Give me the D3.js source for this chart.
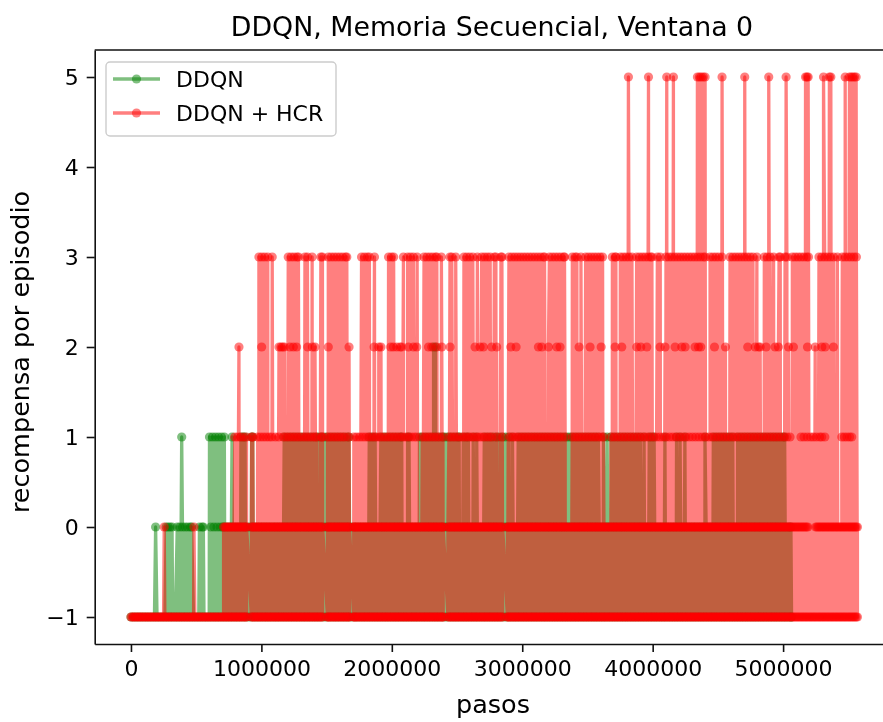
<!DOCTYPE html>
<html><head><meta charset="utf-8">
<script src="https://cdn.jsdelivr.net/npm/d3@7"></script>
<style>
html,body{margin:0;padding:0;background:#fff;overflow:hidden}
svg{display:block;filter:blur(0.55px)}
text{font-family:"DejaVu Sans",sans-serif;fill:#000}
</style></head><body><div id="chart"></div>
<script>
// Episodes: step (in thousands) at which each reward was obtained.
const hcrMinus1 = [0,10,20,30,40,50,60,70,80,90,100,110,120,130,140,150,160,170,180,190,200,210,220,230,240,250,260,270,280,290,300,310,320,330,340,350,360,370,380,390,400,410,420,430,440,450,460,470,480,490,500,510,520,530,540,550,560,570,580,590,600,610,620,630,640,650,660,670,680,690,700,710,720,730,740,750,760,770,780,790,800,810,820,830,840,850,860,870,880,887,923,930,940,950,960,970,980,990,1000,1010,1020,1030,1040,1050,1060,1070,1080,1090,1100,1110,1120,1130,1140,1150,1160,1170,1180,1190,1200,1210,1220,1230,1240,1250,1260,1270,1280,1290,1300,1310,1320,1330,1340,1350,1360,1370,1380,1390,1400,1410,1420,1430,1440,1450,1460,1470,1506,1510,1520,1530,1540,1550,1560,1570,1580,1590,1600,1610,1620,1630,1640,1650,1660,1670,1676,1708,1710,1720,1730,1740,1750,1760,1770,1780,1790,1800,1810,1820,1830,1840,1850,1860,1870,1880,1890,1900,1910,1920,1930,1940,1950,1960,1970,1980,1990,2000,2010,2020,2030,2040,2050,2060,2070,2080,2090,2100,2110,2120,2130,2140,2150,2160,2170,2180,2190,2200,2210,2220,2230,2240,2250,2260,2270,2280,2290,2300,2310,2320,2330,2340,2350,2360,2370,2380,2390,2394,2430,2440,2450,2460,2470,2480,2490,2500,2510,2520,2530,2540,2550,2560,2570,2580,2590,2600,2610,2620,2630,2640,2650,2660,2670,2680,2690,2700,2710,2720,2730,2740,2750,2760,2770,2780,2790,2800,2810,2820,2830,2840,2850,2886,2890,2900,2910,2920,2930,2940,2950,2960,2970,2980,2990,3000,3010,3020,3030,3040,3050,3060,3070,3080,3090,3100,3110,3120,3130,3140,3150,3160,3170,3180,3190,3200,3210,3220,3230,3240,3250,3260,3270,3280,3290,3300,3310,3320,3330,3340,3350,3360,3370,3380,3390,3400,3410,3420,3430,3440,3450,3460,3470,3480,3490,3500,3510,3520,3530,3540,3550,3560,3570,3580,3590,3600,3610,3620,3630,3640,3650,3660,3670,3680,3690,3700,3710,3720,3730,3740,3750,3760,3770,3780,3790,3800,3810,3820,3830,3840,3850,3860,3870,3880,3890,3900,3910,3920,3930,3940,3950,3960,3970,3980,3990,4000,4010,4020,4030,4040,4050,4060,4070,4080,4090,4100,4110,4120,4130,4140,4150,4160,4170,4180,4190,4200,4210,4220,4230,4240,4250,4260,4270,4280,4290,4300,4310,4320,4330,4340,4350,4360,4370,4380,4390,4400,4410,4420,4430,4440,4450,4460,4470,4480,4490,4500,4510,4520,4530,4540,4550,4560,4570,4580,4590,4600,4610,4620,4630,4640,4650,4660,4670,4680,4690,4700,4710,4720,4730,4740,4750,4760,4770,4780,4790,4800,4810,4820,4830,4840,4850,4860,4870,4880,4890,4900,4910,4920,4930,4940,4950,4960,4970,4980,4990,5000,5010,5020,5030,5040,5050,5060,5070,5080,5090,5100,5110,5120,5130,5140,5150,5160,5170,5180,5190,5200,5210,5220,5230,5240,5250,5260,5270,5280,5290,5300,5310,5320,5330,5340,5350,5360,5370,5380,5390,5400,5410,5420,5430,5440,5450,5460,5470,5480,5490,5500,5510,5520,5530,5540,5550,5560,5570];
const hcrZero = [255,483,710,720,730,740,750,760,770,780,790,800,810,820,830,840,850,860,870,880,887,923,930,940,950,960,970,980,990,1000,1010,1020,1030,1040,1050,1060,1070,1080,1090,1100,1110,1120,1130,1140,1150,1160,1170,1180,1190,1200,1210,1220,1230,1240,1250,1260,1270,1280,1290,1300,1310,1320,1330,1340,1350,1360,1370,1380,1390,1400,1410,1420,1430,1440,1450,1460,1470,1506,1510,1520,1530,1540,1550,1560,1570,1580,1590,1600,1610,1620,1630,1640,1650,1660,1670,1676,1708,1710,1720,1730,1740,1750,1760,1770,1780,1790,1800,1810,1820,1830,1840,1850,1860,1870,1880,1890,1900,1910,1920,1930,1940,1950,1960,1970,1980,1990,2000,2010,2020,2030,2040,2050,2060,2070,2080,2090,2100,2110,2120,2130,2140,2150,2160,2170,2180,2190,2200,2210,2220,2230,2240,2250,2260,2270,2280,2290,2300,2310,2320,2330,2340,2350,2360,2370,2380,2390,2394,2430,2440,2450,2460,2470,2480,2490,2500,2510,2520,2530,2540,2550,2560,2570,2580,2590,2600,2610,2620,2630,2640,2650,2660,2670,2680,2690,2700,2710,2720,2730,2740,2750,2760,2770,2780,2790,2800,2810,2820,2830,2840,2850,2886,2890,2900,2910,2920,2930,2940,2950,2960,2970,2980,2990,3000,3010,3020,3030,3040,3050,3060,3070,3080,3090,3100,3110,3120,3130,3140,3150,3160,3170,3180,3190,3200,3210,3220,3230,3240,3250,3260,3270,3280,3290,3300,3310,3320,3330,3340,3350,3360,3370,3380,3390,3400,3410,3420,3430,3440,3450,3460,3470,3480,3490,3500,3510,3520,3530,3540,3550,3560,3570,3580,3590,3600,3610,3620,3630,3640,3650,3660,3670,3680,3690,3700,3710,3720,3730,3740,3750,3760,3770,3780,3790,3800,3810,3820,3830,3840,3850,3860,3870,3880,3890,3900,3910,3920,3930,3940,3950,3960,3970,3980,3990,4000,4010,4020,4030,4040,4050,4060,4070,4080,4090,4100,4110,4120,4130,4140,4150,4160,4170,4180,4190,4200,4210,4220,4230,4240,4250,4260,4270,4280,4290,4300,4310,4320,4330,4340,4350,4360,4370,4380,4390,4400,4410,4420,4430,4440,4450,4460,4470,4480,4490,4500,4510,4520,4530,4540,4550,4560,4570,4580,4590,4600,4610,4620,4630,4640,4650,4660,4670,4680,4690,4700,4710,4720,4730,4740,4750,4760,4770,4780,4790,4800,4810,4820,4830,4840,4850,4860,4870,4880,4890,4900,4910,4920,4930,4940,4950,4960,4970,4980,4990,5000,5010,5020,5030,5040,5050,5060,5070,5080,5090,5100,5110,5120,5130,5140,5150,5160,5170,5180,5190,5250,5260,5270,5280,5290,5300,5310,5320,5330,5340,5350,5360,5370,5380,5390,5400,5410,5420,5430,5440,5450,5460,5470,5480,5490,5500,5510,5520,5530,5540,5550,5560,5570];
const hcrOne = [796,818,840,862,886,925,934,971,993,1015,1037,1059,1079,1107,1132,1167,1189,1211,1233,1255,1277,1299,1321,1343,1365,1387,1409,1424,1461,1468,1507,1529,1551,1573,1595,1617,1639,1668,1709,1731,1753,1775,1797,1819,1841,1863,1885,1907,1929,1951,1973,1995,2017,2039,2061,2083,2105,2127,2149,2171,2191,2233,2255,2277,2299,2321,2343,2365,2392,2438,2460,2482,2504,2526,2548,2570,2592,2614,2636,2658,2680,2702,2724,2746,2768,2805,2847,2905,2927,2949,2971,2993,3015,3037,3059,3081,3103,3125,3147,3169,3191,3213,3235,3257,3279,3301,3329,3383,3405,3427,3449,3471,3493,3515,3537,3559,3581,3603,3623,3680,3705,3730,3755,3780,3805,3830,3855,3880,3905,3930,3955,3980,4005,4030,4055,4080,4105,4130,4155,4180,4205,4230,4255,4280,4305,4330,4355,4380,4405,4430,4455,4480,4505,4530,4555,4580,4605,4630,4655,4680,4705,4730,4755,4780,4805,4830,4855,4880,4905,4930,4955,4980,5005,5030,5053,5137,5160,5185,5210,5232,5255,5280,5296,5320,5450,5470,5490,5510,5526];
const hcrTwo = [828,1002,1135,1150,1163,1176,1219,1245,1270,1355,1391,1411,1513,1672,1864,1900,1917,1991,2012,2038,2063,2076,2127,2166,2191,2281,2306,2344,2383,2447,2638,2677,2702,2766,2804,2912,2953,3124,3150,3201,3265,3290,3436,3520,3605,3712,3763,3878,3909,3955,4057,4095,4172,4223,4249,4325,4351,4369,4474,4558,4729,4786,4811,4824,4870,4939,4964,5041,5079,5187,5246,5297,5322,5386];
const hcrThree = [981,1003,1025,1049,1083,1206,1228,1250,1272,1284,1334,1353,1389,1456,1468,1513,1535,1557,1579,1601,1623,1645,1655,1768,1790,1812,1828,1867,1975,1997,2014,2089,2121,2143,2165,2194,2247,2269,2291,2313,2335,2345,2380,2446,2460,2490,2553,2575,2597,2621,2656,2689,2711,2733,2754,2786,2798,2837,2844,2898,2920,2942,2964,2986,3008,3030,3052,3074,3096,3118,3140,3162,3171,3208,3230,3252,3274,3296,3318,3324,3384,3406,3419,3450,3486,3508,3530,3552,3574,3596,3616,3691,3713,3718,3752,3774,3796,3818,3841,3877,3899,3921,3943,3965,3985,3994,4036,4058,4102,4124,4146,4168,4190,4212,4234,4256,4278,4300,4322,4344,4366,4388,4403,4440,4462,4484,4506,4531,4593,4615,4637,4659,4681,4703,4725,4747,4769,4799,4856,4878,4900,4927,4969,4978,5015,5029,5071,5093,5115,5137,5159,5181,5195,5275,5297,5319,5341,5363,5387,5416,5454,5476,5498,5520,5542,5562];
const hcrFive = [3814,3968,4108,4159,4343,4358,4372,4388,4402,4532,4706,4890,5023,5172,5183,5192,5310,5355,5366,5476,5509,5522,5535,5548,5560];

const ddqnMinus1 = [0,20,40,60,80,100,120,140,160,180,200,220,240,260,280,300,320,340,360,380,400,420,440,460,480,500,520,540,560,580,600,620,640,660,680,700,720,740,760,780,800,820,840,860,880,900,920,940,960,980,1000,1020,1040,1060,1080,1100,1120,1140,1160,1180,1200,1220,1240,1260,1280,1300,1320,1340,1360,1380,1400,1420,1440,1460,1480,1500,1520,1540,1560,1580,1600,1620,1640,1660,1680,1700,1720,1740,1760,1780,1800,1820,1840,1860,1880,1900,1920,1940,1960,1980,2000,2020,2040,2060,2080,2100,2120,2140,2160,2180,2200,2220,2240,2260,2280,2300,2320,2340,2360,2380,2400,2420,2440,2460,2480,2500,2520,2540,2560,2580,2600,2620,2640,2660,2680,2700,2720,2740,2760,2780,2800,2820,2840,2860,2880,2900,2920,2940,2960,2980,3000,3020,3040,3060,3080,3100,3120,3140,3160,3180,3200,3220,3240,3260,3280,3300,3320,3340,3360,3380,3400,3420,3440,3460,3480,3500,3520,3540,3560,3580,3600,3620,3640,3660,3680,3700,3720,3740,3760,3780,3800,3820,3840,3860,3880,3900,3920,3940,3960,3980,4000,4020,4040,4060,4080,4100,4120,4140,4160,4180,4200,4220,4240,4260,4280,4300,4320,4340,4360,4380,4400,4420,4440,4460,4480,4500,4520,4540,4560,4580,4600,4620,4640,4660,4680,4700,4720,4740,4760,4780,4800,4820,4840,4860,4880,4900,4920,4940,4960,4980,5000,5020,5040,5060,5065];
const ddqnZero = [189,270,285,300,315,355,375,395,415,435,455,465,525,545,555,612,636,660,684,703,710,730,750,770,790,810,830,850,870,890,910,930,950,970,990,1010,1030,1050,1070,1090,1110,1130,1150,1170,1190,1210,1230,1250,1270,1290,1310,1330,1350,1370,1390,1410,1430,1450,1470,1490,1510,1530,1550,1570,1590,1610,1630,1650,1670,1690,1710,1730,1750,1770,1790,1810,1830,1850,1870,1890,1910,1930,1950,1970,1990,2010,2030,2050,2070,2090,2110,2130,2150,2170,2190,2210,2230,2250,2270,2290,2310,2330,2350,2370,2390,2410,2430,2450,2470,2490,2510,2530,2550,2570,2590,2610,2630,2650,2670,2690,2710,2730,2750,2770,2790,2810,2830,2850,2870,2890,2910,2930,2950,2970,2990,3010,3030,3050,3070,3090,3110,3130,3150,3170,3190,3210,3230,3250,3270,3290,3310,3330,3350,3370,3390,3410,3430,3450,3470,3490,3510,3530,3550,3570,3590,3610,3630,3650,3670,3690,3710,3730,3750,3770,3790,3810,3830,3850,3870,3890,3910,3930,3950,3970,3990,4010,4030,4050,4070,4090,4110,4130,4150,4170,4190,4210,4230,4250,4270,4290,4310,4330,4350,4370,4390,4410,4430,4450,4470,4490,4510,4530,4550,4570,4590,4610,4630,4650,4670,4690,4710,4730,4750,4770,4790,4810,4830,4850,4870,4890,4910,4930,4950,4970,4990,5010,5030,5050,5060];
const ddqnOne = [389,602,625,648,671,694,716,775,843,862,875,925,934,1175,1200,1225,1250,1275,1300,1325,1350,1375,1400,1424,1445,1461,1483,1507,1532,1557,1582,1607,1632,1657,1672,1827,1850,1872,1916,1941,1966,1991,2016,2041,2066,2076,2121,2132,2212,2233,2258,2283,2308,2333,2358,2383,2396,2417,2438,2460,2484,2506,2516,2548,2571,2587,2624,2651,2709,2734,2759,2784,2805,2826,2847,2873,2898,2925,2969,2994,3019,3044,3069,3094,3119,3144,3169,3194,3219,3244,3269,3294,3319,3341,3362,3383,3408,3433,3458,3483,3508,3533,3558,3583,3623,3651,3680,3705,3730,3755,3780,3805,3830,3855,3880,3905,3934,3974,3994,4011,4094,4183,4210,4247,4401,4465,4490,4515,4540,4565,4590,4614,4651,4676,4701,4726,4751,4776,4801,4826,4851,4876,4901,4926,4951,4976,5001,5012];
const ddqnTwo = [2320,2335];

const yTicks = [-1,0,1,2,3,4,5];
const xTicks = [0,1000000,2000000,3000000,4000000,5000000];
const seriesNames = ["DDQN","DDQN + HCR"];
const seriesColors = ["#008000","#ff0000"];
const titleText = "DDQN, Memoria Secuencial, Ventana 0";
const xLabel = "pasos", yLabel = "recompensa por episodio";

const W = 883, H = 722;
const L = 94.7, R = 893.7, T = 50, B = 644;
const lw = 3.3, mr = 4.6;

const episodes = levels => levels
  .flatMap(([reward, steps]) => steps.map(s => ({step: s * 1000, reward})))
  .sort((a, b) => d3.ascending(a.step, b.step));

const ddqn = episodes([[-1,ddqnMinus1],[0,ddqnZero],[1,ddqnOne],[2,ddqnTwo]]);
const hcr = episodes([[-1,hcrMinus1],[0,hcrZero],[1,hcrOne],[2,hcrTwo],[3,hcrThree],[5,hcrFive]]);

const svg = d3.select("#chart").append("svg").attr("width", W).attr("height", H);
const x = d3.scaleLinear().domain([-278000, 5848000]).range([L, R]);
const y = d3.scaleLinear().domain([-1.3, 5.3]).range([B, T]);
const line = d3.line().x(d => x(d.step)).y(d => y(d.reward)).curve(d3.curveLinear);

[ddqn, hcr].forEach((data, i) => {
  const g = svg.append("g");
  g.append("path").datum(data).attr("d", line).attr("fill", "none")
    .attr("stroke", seriesColors[i]).attr("stroke-opacity", 0.5)
    .attr("stroke-width", lw).attr("stroke-linejoin", "round").attr("stroke-linecap", "square");
  g.selectAll("circle").data(data).join("circle")
    .attr("cx", d => x(d.step)).attr("cy", d => y(d.reward)).attr("r", mr)
    .attr("fill", seriesColors[i]).attr("fill-opacity", 0.5);
});

// axes
const xAxis = d3.axisBottom(x).tickValues(xTicks).tickFormat(d3.format("d")).tickSize(8).tickSizeOuter(0).tickPadding(8);
const yAxis = d3.axisLeft(y).tickValues(yTicks).tickFormat(d => d < 0 ? "\u2212" + (-d) : d).tickSize(8).tickSizeOuter(0).tickPadding(8);
const gx = svg.append("g").attr("transform", `translate(0,${B})`).call(xAxis);
const gy = svg.append("g").attr("transform", `translate(${L},0)`).call(yAxis);
[gx, gy].forEach(g => {
  g.selectAll("path.domain").attr("stroke", "#111").attr("stroke-width", 1.6);
  g.selectAll("line").attr("stroke", "#111").attr("stroke-width", 1.6);
  g.selectAll("text").attr("font-size", 22).attr("font-family", '"DejaVu Sans",sans-serif').attr("fill", "#000");
});
svg.append("line").attr("x1", L).attr("x2", W).attr("y1", T).attr("y2", T).attr("stroke", "#111").attr("stroke-width", 1.6);

svg.append("text").attr("x", 492).attr("y", 36).attr("text-anchor", "middle").attr("font-size", 26.8).text(titleText);
svg.append("text").attr("x", 493).attr("y", 713).attr("text-anchor", "middle").attr("font-size", 25.5).text(xLabel);
svg.append("text").attr("transform", "translate(29,352) rotate(-90)").attr("text-anchor", "middle").attr("font-size", 25.5).text(yLabel);

// legend
const lg = svg.append("g");
lg.append("rect").attr("x", 106).attr("y", 62).attr("width", 230).attr("height", 74).attr("rx", 4)
  .attr("fill", "#fff").attr("fill-opacity", 0.8).attr("stroke", "#ccc").attr("stroke-width", 1.4);
seriesNames.forEach((name, i) => {
  const ly = 79 + i * 34;
  lg.append("line").attr("x1", 113).attr("x2", 160).attr("y1", ly).attr("y2", ly)
    .attr("stroke", seriesColors[i]).attr("stroke-opacity", 0.5).attr("stroke-width", lw);
  lg.append("circle").attr("cx", 136.5).attr("cy", ly).attr("r", mr).attr("fill", seriesColors[i]).attr("fill-opacity", 0.5);
  lg.append("text").attr("x", 176).attr("y", ly + 8).attr("font-size", 22).text(name);
});
</script></body></html>
